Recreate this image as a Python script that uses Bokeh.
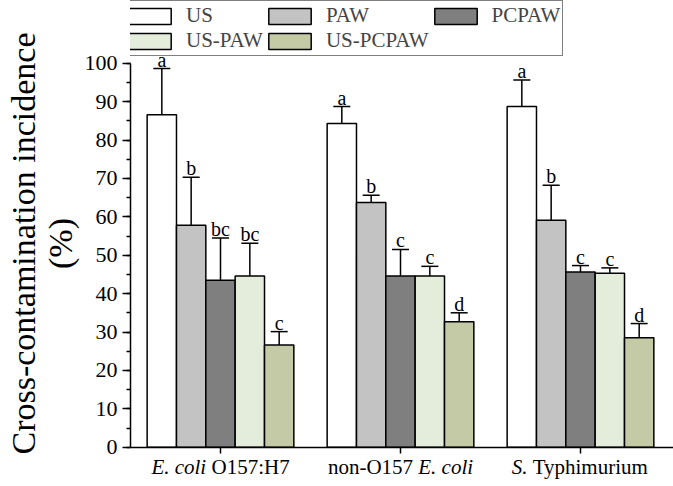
from bokeh.plotting import figure
from bokeh.models import (ColumnDataSource, Range1d, FixedTicker, Whisker, TeeHead,
                          Legend, LegendItem)
from bokeh.core.properties import value
from bokeh.embed import file_html
from bokeh.resources import INLINE

# ---------------- data ----------------
pathogens = ["E. coli O157:H7", "non-O157 E. coli", "S. Typhimurium"]
treatments = ["US", "PAW", "PCPAW", "US-PAW", "US-PCPAW"]

us_mean = [86.6, 84.3, 88.7]
us_err = [12.0, 4.4, 6.9]
us_sig = ["a", "a", "a"]

paw_mean = [57.8, 63.7, 59.1]
paw_err = [12.5, 1.9, 9.1]
paw_sig = ["b", "b", "b"]

pcpaw_mean = [43.5, 44.6, 45.6]
pcpaw_err = [11.0, 6.9, 1.7]
pcpaw_sig = ["bc", "c", "c"]

uspaw_mean = [44.6, 44.6, 45.3]
uspaw_err = [8.5, 2.5, 1.4]
uspaw_sig = ["bc", "c", "c"]

uspcpaw_mean = [26.6, 32.7, 28.5]
uspcpaw_err = [3.5, 2.3, 3.7]
uspcpaw_sig = ["c", "d", "d"]

y_ticks = list(range(0, 101, 10))
y_minor = list(range(0, 101, 5))

# x-label pieces: (text, italic)
label_parts = [
    [("E. coli", True), (" O157:H7", False)],
    [("non-O157 ", False), ("E. coli", True)],
    [("S.", True), (" Typhimurium", False)],
]

means = [us_mean, paw_mean, pcpaw_mean, uspaw_mean, uspcpaw_mean]
errs = [us_err, paw_err, pcpaw_err, uspaw_err, uspcpaw_err]
sigs = [us_sig, paw_sig, pcpaw_sig, uspaw_sig, uspcpaw_sig]
colors = ["#ffffff", "#c3c3c3", "#7f7f7f", "#e4ecdc", "#c4caa6"]

FONT = "Liberation Serif"
group_x = [i + 0.5 for i in range(len(pathogens))]
bar_w = 0.163

W_FIG, H_FIG = 673, 486
LEFT = 130
PX_PER_X = 180.0
PX_PER_Y = 3.84
ZERO_Y = 446.7

p = figure(width=W_FIG, height=H_FIG,
           x_range=Range1d(0, (W_FIG - LEFT) / PX_PER_X),
           y_range=Range1d(-(H_FIG - ZERO_Y) / PX_PER_Y, ZERO_Y / PX_PER_Y),
           output_backend="svg", toolbar_location=None,
           min_border_left=LEFT, min_border_right=0, min_border_top=0, min_border_bottom=0)
p.xgrid.grid_line_color = None
p.ygrid.grid_line_color = None
p.outline_line_color = None
p.background_fill_color = "white"
p.border_fill_color = "white"

items = []
for i, name in enumerate(treatments):
    xs = [g + (i - 2) * bar_w for g in group_x]
    src = ColumnDataSource(dict(
        x=xs, top=means[i],
        upper=[m + e for m, e in zip(means[i], errs[i])],
        sig=sigs[i]))
    r = p.vbar(x="x", top="top", bottom=0, width=bar_w, source=src,
               fill_color=colors[i], line_color="black", line_width=1.5)
    w = Whisker(base="x", lower="top", upper="upper", source=src, dimension="height",
                line_color="black", line_width=1.5,
                upper_head=TeeHead(size=17, line_color="black", line_width=1.5),
                lower_head=None)
    p.add_layout(w)
    p.text(x="x", y="upper", text="sig", source=src, text_font=value(FONT),
           text_font_size="20px", text_align="center", text_baseline="bottom",
           text_color="black", y_offset=2)
    items.append(LegendItem(label=name, renderers=[r]))

legend = Legend(items=items, orientation="horizontal", ncols=3,
                location=(-10, H_FIG - 56),
                border_line_color="black", border_line_width=1.5,
                background_fill_color="white", background_fill_alpha=1.0,
                glyph_width=53, glyph_height=20, label_height=20,
                label_text_font=FONT, label_text_font_size="21px",
                label_standoff=10, spacing=0, padding=2, margin=0)
p.add_layout(legend, "center")

# y axis
ya = p.yaxis[0]
ya.bounds = (0, 100)
ya.ticker = FixedTicker(ticks=y_ticks, minor_ticks=y_minor)
ya.axis_line_width = 1.5
ya.major_tick_line_width = 1.5
ya.minor_tick_line_width = 1.5
ya.major_tick_out = 8
ya.major_tick_in = 0
ya.minor_tick_out = 4
ya.minor_tick_in = 0
ya.major_label_text_font = FONT
ya.major_label_text_font_size = "22px"
ya.major_label_text_color = "black"
ya.major_label_standoff = 5
ya.axis_label = "Cross-contamination incidence\n(%)"
ya.axis_label_text_font = FONT
ya.axis_label_text_font_size = "34px"
ya.axis_label_text_font_style = "normal"
ya.axis_label_text_line_height = 1.0
ya.axis_label_text_color = "black"
ya.axis_label_standoff = 3

# x axis drawn at y = 0 inside the frame
xa = p.xaxis[0]
xa.fixed_location = 0
xa.ticker = FixedTicker(ticks=group_x, minor_ticks=[])
xa.major_label_overrides = {g: "" for g in group_x}
xa.axis_line_width = 1.5
xa.major_tick_line_width = 1.5
xa.major_tick_out = 6
xa.major_tick_in = 0

# x labels with mixed italic (Times metrics, per 1000 em)
W = {" ": 250, "-": 333, ".": 250, ":": 278, "1": 500, "5": 500, "7": 500, "0": 500,
     "O": 722, "H": 722, "T": 611, "y": 500, "p": 500, "h": 500, "i": 278, "m": 778,
     "u": 500, "r": 333, "n": 500, "o": 500, "E": 611, "S": 556, "c": 444, "l": 278}
WI = dict(W, S=500)
fs = 21


def twidth(t, italic):
    tab = WI if italic else W
    return sum(tab.get(ch, 500) for ch in t) * fs / 1000.0


for g, parts in zip(group_x, label_parts):
    total = sum(twidth(t, it) for t, it in parts)
    off = -total / 2.0
    for t, it in parts:
        lead = len(t) - len(t.lstrip(" "))
        shown = t.strip(" ")
        p.text(x=[g], y=[0], text=[shown], x_offset=off + twidth(" " * lead, it), y_offset=8,
               text_align="left", text_baseline="top",
               text_font=value(FONT), text_font_size=f"{fs}px",
               text_font_style="italic" if it else "normal", text_color="black")
        off += twidth(t, it)

open("out.html", "w").write(file_html(p, INLINE))
